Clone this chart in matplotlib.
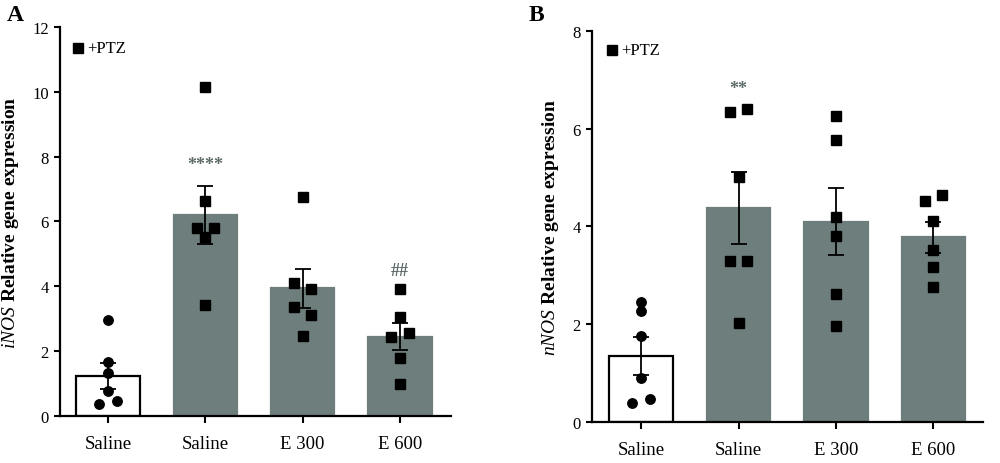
import matplotlib
matplotlib.use("Agg")
import matplotlib.pyplot as plt
import numpy as np

categories = ["Saline", "Saline", "E 300", "E 600"]

# Panel A: iNOS
inos_means = [1.23, 6.21, 3.94, 2.45]
inos_sem = [0.40, 0.90, 0.60, 0.41]
inos_points = [
    [2.97, 1.68, 1.32, 0.77, 0.45, 0.36],
    [10.14, 6.62, 5.81, 5.81, 5.51, 3.42],
    [6.74, 4.09, 3.91, 3.35, 3.11, 2.47],
    [3.91, 3.06, 2.56, 2.44, 1.78, 0.98],
]
inos_offsets = [
    [0, 0, 0, 0, 0.28, -0.28],
    [0, 0, -0.28, 0.28, 0, 0],
    [0, -0.28, 0.28, -0.28, 0.28, 0],
    [0, 0, 0.28, -0.28, 0, 0],
]
inos_sig = ["", "****", "", "##"]
inos_sig_y = [0, 7.75, 0, 4.5]

# Panel B: nNOS
nnos_means = [1.35, 4.38, 4.10, 3.78]
nnos_sem = [0.38, 0.74, 0.69, 0.32]
nnos_points = [
    [2.46, 2.28, 1.76, 0.89, 0.46, 0.38],
    [6.40, 6.33, 5.01, 3.29, 3.29, 2.02],
    [6.26, 5.76, 4.20, 3.81, 2.62, 1.96],
    [4.64, 4.52, 4.12, 3.51, 3.16, 2.76],
]
nnos_offsets = [
    [0, 0, 0, 0, 0.28, -0.28],
    [0.28, -0.28, 0, -0.28, 0.28, 0],
    [0, 0, 0, 0, 0, 0],
    [0.28, -0.28, 0, 0, 0, 0],
]
nnos_sig = ["", "**", "", ""]
nnos_sig_y = [0, 6.82, 0, 0]

BAR = "#6d7e7c"
SIG = "#5d6b69"
SERIF = ["Liberation Serif", "DejaVu Serif"]
plt.rcParams["font.family"] = SERIF
plt.rcParams["mathtext.fontset"] = "custom"
plt.rcParams["mathtext.bfit"] = "Liberation Serif:italic:bold"
plt.rcParams["mathtext.it"] = "Liberation Serif:italic"
plt.rcParams["mathtext.bf"] = "Liberation Serif:bold"
plt.rcParams["mathtext.rm"] = "Liberation Serif"

fig = plt.figure(figsize=(10, 4.64), dpi=100)


def panel(rect, means, sem, points, offsets, sig, sig_y, ymax, yticks,
          ylabel_it, letter, letter_xy, xlim, leg_xy):
    ax = fig.add_axes(rect)
    x = np.arange(len(categories))
    colors = ["white", BAR, BAR, BAR]
    edges = ["black", BAR, BAR, BAR]
    for i in range(len(categories)):
        ax.bar(x[i], means[i], width=0.65, color=colors[i], edgecolor=edges[i],
               linewidth=1.6, zorder=2)
    for i in range(len(categories)):
        mk = "o" if i == 0 else "s"
        px = x[i] + np.array(offsets[i]) * 0.32
        ax.plot(px, points[i], linestyle="none", marker=mk, color="black",
                markersize=6.8, zorder=3)
        ax.errorbar(x[i], means[i], yerr=sem[i], color="black", capsize=5.5,
                    elinewidth=1.3, capthick=1.3, zorder=4)
        if sig[i]:
            ax.text(x[i], sig_y[i], sig[i], ha="center", va="center",
                    color=SIG, fontsize=13, fontweight="bold")
    ax.set_xlim(*xlim)
    ax.set_ylim(0, ymax)
    ax.set_yticks(yticks)
    ax.set_xticks(x)
    ax.set_xticklabels(categories, fontsize=13.5)
    ax.tick_params(axis="y", labelsize=12, width=1.5, length=4, pad=4)
    ax.tick_params(axis="x", width=1.5, length=5, pad=9)
    for s in ["top", "right"]:
        ax.spines[s].set_visible(False)
    for s in ["left", "bottom"]:
        ax.spines[s].set_linewidth(1.6)
    ax.set_ylabel(r"$\mathbf{\mathit{" + ylabel_it + r"}}$" + " Relative gene expression",
                  fontsize=14, fontweight="bold", labelpad=8)
    ax.plot([leg_xy[0]], [leg_xy[1]], transform=ax.transAxes, marker="s",
            color="black", markersize=6.5, linestyle="none", clip_on=False)
    ax.text(leg_xy[0] + 0.023, leg_xy[1], "+PTZ", transform=ax.transAxes,
            fontsize=12, va="center", ha="left")
    fig.text(letter_xy[0], letter_xy[1], letter, fontsize=17, fontweight="bold",
             ha="left", va="center")
    return ax


panel([0.06, 0.1013, 0.391, 0.8384], inos_means, inos_sem, inos_points,
      inos_offsets, inos_sig, inos_sig_y, 12, [0, 2, 4, 6, 8, 10, 12],
      "iNOS", "A", (0.007, 0.967), (-0.493, 3.524), (0.046, 0.946))
panel([0.592, 0.0884, 0.391, 0.843], nnos_means, nnos_sem, nnos_points,
      nnos_offsets, nnos_sig, nnos_sig_y, 8, [0, 2, 4, 6, 8],
      "nNOS", "B", (0.529, 0.967), (-0.504, 3.51), (0.051, 0.951))

fig.savefig("out.png", dpi=100)
